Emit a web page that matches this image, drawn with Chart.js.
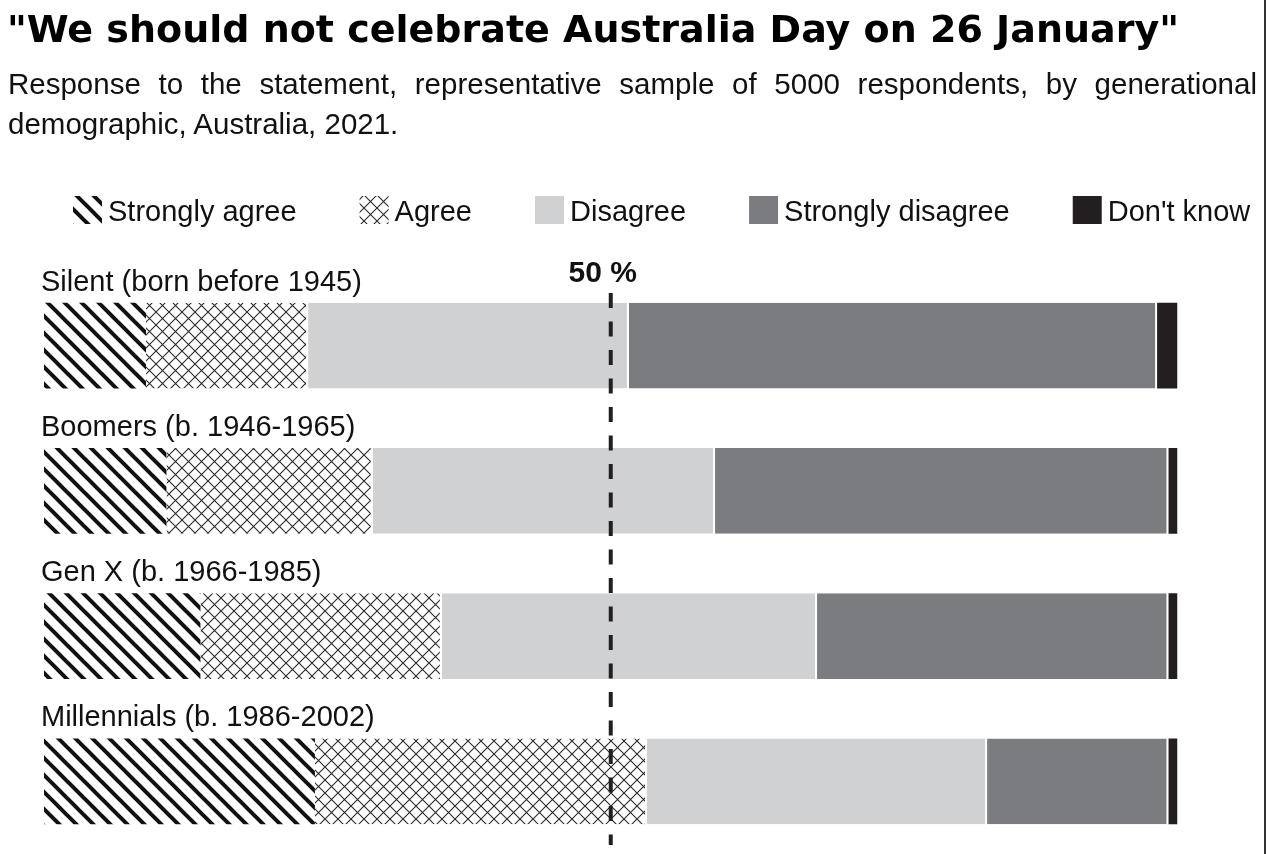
<!DOCTYPE html>
<html>
<head>
<meta charset="utf-8">
<script src="https://cdn.jsdelivr.net/npm/chart.js@4.4.1/dist/chart.umd.min.js"></script>
<style>
  html, body { margin: 0; padding: 0; background: #fff; }
  #wrap { position: relative; width: 1266px; height: 854px; overflow: hidden; }
  #title { position: absolute; left: 7px; top: 7px; font: bold 38px "DejaVu Sans", sans-serif; color: #000; white-space: nowrap; }
  #sub { position: absolute; left: 8px; top: 64px; width: 1249px; font: 29.5px "Liberation Sans", Arial, sans-serif; line-height: 40px; text-align: justify; color: #111; }
  #frame { position: absolute; right: 0; top: 0; width: 2px; height: 854px; background: #333; }
  #chartBox { position: absolute; left: 0; top: 0; width: 1266px; height: 854px; }
</style>
</head>
<body>
<div id="wrap">
  <div id="chartBox"><canvas id="chart"></canvas></div>
  <div id="title">"We should not celebrate Australia Day on 26 January"</div>
  <div id="sub">Response to the statement, representative sample of 5000 respondents, by generational demographic, Australia, 2021.</div>
  <div id="frame"></div>
</div>
<script>
const generations = ['Silent (born before 1945)', 'Boomers (b. 1946-1965)', 'Gen X (b. 1966-1985)', 'Millennials (b. 1986-2002)'];
const responses = ['Strongly agree', 'Agree', 'Disagree', 'Strongly disagree', "Don't know"];

// share of respondents, %
const stronglyAgree = [9.0, 10.8, 13.8, 23.9];
const agree = [14.3, 18.2, 21.3, 29.3];
const disagree = [28.3, 30.2, 33.1, 30.0];
const stronglyDisagree = [46.6, 40.0, 31.0, 16.0];
const dontKnow = [1.8, 0.8, 0.8, 0.8];

const markerValue = 50;

function makePattern(size, draw) {
  const c = document.createElement('canvas');
  c.width = size; c.height = size;
  const g = c.getContext('2d');
  g.fillStyle = '#fff';
  g.fillRect(0, 0, size, size);
  draw(g, size);
  return document.getElementById('chart').getContext('2d').createPattern(c, 'repeat');
}

const stripes = makePattern(17, (g, s) => {
  g.strokeStyle = '#111';
  g.lineWidth = 4;
  for (let k = -1; k <= 1; k++) {
    g.beginPath();
    g.moveTo(-2, -2 + k * s);
    g.lineTo(s + 2, s + 2 + k * s);
    g.stroke();
  }
});

const lattice = makePattern(13, (g, s) => {
  g.strokeStyle = '#2a2a2a';
  g.lineWidth = 1.1;
  g.beginPath();
  g.moveTo(0, 0); g.lineTo(s, s);
  g.moveTo(s, 0); g.lineTo(0, s);
  g.stroke();
});

const fills = [stripes, lattice, '#d0d1d3', '#7b7c80', '#231f20'];
const series = [stronglyAgree, agree, disagree, stronglyDisagree, dontKnow];

const decorations = {
  id: 'decorations',
  afterDatasetsDraw(chart) {
    const { ctx, scales: { x }, chartArea } = chart;
    const meta = chart.getDatasetMeta(0);
    ctx.save();

    // category labels above each bar
    ctx.fillStyle = '#111';
    ctx.font = '29px "Liberation Sans", Arial, sans-serif';
    ctx.textAlign = 'left';
    ctx.textBaseline = 'alphabetic';
    meta.data.forEach((bar, i) => {
      const top = bar.y - bar.height / 2;
      ctx.fillText(generations[i], chartArea.left - 3, top - 12);
    });

    // 50 % dashed reference line
    const xm = x.getPixelForValue(markerValue);
    ctx.strokeStyle = '#231f20';
    ctx.lineWidth = 4;
    ctx.setLineDash([15, 13.5]);
    ctx.beginPath();
    ctx.moveTo(xm, chartArea.top + 20);
    ctx.lineTo(xm, chartArea.bottom - 9);
    ctx.stroke();
    ctx.setLineDash([]);

    ctx.font = 'bold 30px "Liberation Sans", Arial, sans-serif';
    ctx.textAlign = 'center';
    ctx.fillStyle = '#111';
    ctx.fillText(markerValue + ' %', xm - 8, chartArea.top + 9);

    // legend
    ctx.font = '29px "Liberation Sans", Arial, sans-serif';
    ctx.textAlign = 'left';
    let lx = 73;
    const boxW = 29, boxH = 28, boxTop = 196, textGap = 6, itemGap = 63;
    chart.data.datasets.forEach((ds) => {
      ctx.fillStyle = ds.backgroundColor;
      ctx.fillRect(lx, boxTop, boxW, boxH);
      lx += boxW + textGap;
      ctx.fillStyle = '#111';
      ctx.fillText(ds.label, lx, boxTop + boxH - 3);
      lx += ctx.measureText(ds.label).width + itemGap;
    });
    ctx.restore();
  }
};

new Chart(document.getElementById('chart'), {
  type: 'bar',
  data: {
    labels: generations,
    datasets: responses.map((label, i) => ({
      label,
      data: series[i],
      backgroundColor: fills[i],
      borderColor: '#fff',
      borderWidth: (i >= 1 && i <= 3) ? { right: 2, left: 0, top: 0, bottom: 0 } : 0,
      borderSkipped: false,
      barPercentage: 0.592,
      categoryPercentage: 1
    }))
  },
  options: {
    indexAxis: 'y',
    responsive: true,
    maintainAspectRatio: false,
    animation: false,
    layout: { padding: { top: 273, left: 44, right: 88.5, bottom: 0 } },
    plugins: { legend: { display: false }, tooltip: { enabled: false } },
    scales: {
      x: { stacked: true, min: 0, max: 100, display: false },
      y: { stacked: true, display: false }
    }
  },
  plugins: [decorations]
});
</script>
</body>
</html>
